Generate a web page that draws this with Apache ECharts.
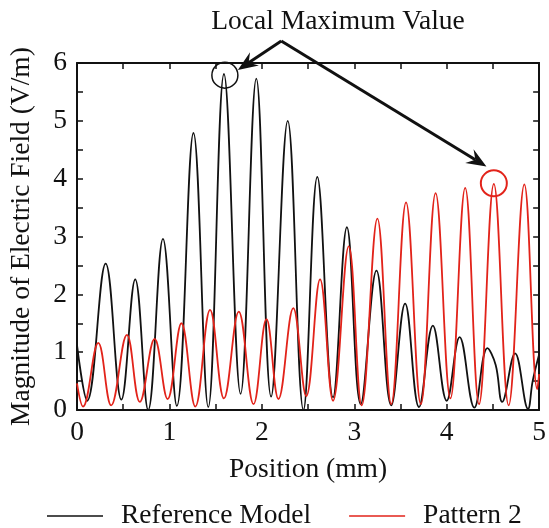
<!DOCTYPE html>
<html>
<head>
<meta charset="utf-8">
<script src="https://cdn.jsdelivr.net/npm/echarts@6/dist/echarts.min.js"></script>
<style>
  html, body { margin: 0; padding: 0; background: #fff; }
  #chart { width: 549px; height: 528px; }
</style>
</head>
<body>
<div id="chart"></div>
<script>
// Reference Model (black) - peaks and troughs
var refX = [0, 0.11, 0.31, 0.48, 0.63, 0.77, 0.93, 1.08, 1.26, 1.42, 1.59, 1.77, 1.94, 2.1, 2.28, 2.45,
  2.6, 2.77, 2.92, 3.07, 3.24, 3.4, 3.55, 3.7, 3.85, 4.0, 4.14, 4.3, 4.44, 4.53, 4.6, 4.74, 4.88, 4.93, 5.0]
var refY = [1.12, 0.16, 2.53, 0.18, 2.26, 0.0, 2.96, 0.07, 4.79, 0.05, 5.81, 0.28, 5.73, 0.23, 5.0, 0.0,
  4.03, 0.22, 3.16, 0.1, 2.41, 0.08, 1.84, 0.05, 1.46, 0.16, 1.26, 0.04, 1.07, 0.78, 0.14, 0.98, 0.02, 0.5, 0.96]

// Pattern 2 (red)
var patX = [0, 0.065, 0.23, 0.37, 0.54, 0.68, 0.84, 0.98, 1.13, 1.28, 1.44, 1.59, 1.75, 1.91, 2.05, 2.18,
  2.34, 2.48, 2.63, 2.77, 2.94, 3.08, 3.25, 3.4, 3.56, 3.72, 3.88, 4.04, 4.2, 4.35, 4.51, 4.67, 4.84, 4.98, 5.0]
var patY = [0.46, 0.06, 1.16, 0.08, 1.3, 0.14, 1.23, 0.19, 1.5, 0.06, 1.73, 0.2, 1.7, 0.1, 1.57, 0.19,
  1.76, 0.24, 2.26, 0.16, 2.83, 0.08, 3.31, 0.1, 3.59, 0.1, 3.75, 0.2, 3.84, 0.1, 3.91, 0.08, 3.9, 0.36, 0.62]

var xLabels = [0, 1, 2, 3, 4, 5]
var yLabels = [0, 1, 2, 3, 4, 5, 6]

// annotation anchor points (data coords)
var blackPeak = [1.6, 5.79]
var redPeak = [4.51, 3.92]
var arrowFrom = [2.21, 6.38]
var arrowTips = [[1.74, 5.88], [4.43, 4.21]]

function pairs(xs, ys) {
  var out = []
  for (var i = 0; i < xs.length; i++) out.push([xs[i], ys[i]])
  return out
}

var font = "'Liberation Serif', 'Times New Roman', serif"
var fs = 27.5

var chart = echarts.init(document.getElementById('chart'))

function axisX(pos, show) {
  return {
    type: 'value', position: pos, min: 0, max: 5, interval: 0.5,
    name: show ? 'Position (mm)' : '', nameLocation: 'middle', nameGap: 46,
    nameTextStyle: { fontFamily: font, fontSize: fs, color: '#111' },
    axisLine: { show: true, onZero: false, lineStyle: { color: '#111', width: 2 } },
    axisTick: { show: true, inside: true, length: 6, lineStyle: { color: '#111', width: 1.5 } },
    axisLabel: {
      show: show, margin: 9, fontFamily: font, fontSize: fs, color: '#111',
      formatter: function(v) { return xLabels.indexOf(v) >= 0 ? String(v) : '' }
    },
    splitLine: { show: false }
  }
}
function axisY(pos, show) {
  return {
    type: 'value', position: pos, min: 0, max: 6, interval: 0.5,
    name: show ? 'Magnitude of Electric Field (V/m)' : '', nameLocation: 'middle', nameGap: 41,
    nameTextStyle: { fontFamily: font, fontSize: fs, color: '#111' },
    axisLine: { show: true, onZero: false, lineStyle: { color: '#111', width: 2 } },
    axisTick: { show: true, inside: true, length: 6, lineStyle: { color: '#111', width: 1.5 } },
    axisLabel: {
      show: show, margin: 10, fontFamily: font, fontSize: fs, color: '#111',
      formatter: function(v) { return yLabels.indexOf(v) >= 0 ? String(v) : '' }
    },
    splitLine: { show: false }
  }
}

var option = {
  animation: false,
  backgroundColor: '#fff',
  grid: { left: 77, right: 9, top: 63, bottom: 118 },
  xAxis: [axisX('bottom', true), axisX('top', false)],
  yAxis: [axisY('left', true), axisY('right', false)],
  legend: {
    left: 42, top: 497, icon: 'rect', itemWidth: 56, itemHeight: 1.6, itemGap: 38,
    textStyle: { fontFamily: font, fontSize: fs, color: '#111', padding: [0, 0, 0, 13] },
    data: ['Reference Model', 'Pattern 2']
  },
  series: [
    {
      name: 'Reference Model', type: 'line', symbol: 'none', smooth: 0.4,
      lineStyle: { color: '#111', width: 1.8 }, itemStyle: { color: '#111' },
      data: pairs(refX, refY)
    },
    {
      name: 'Pattern 2', type: 'line', symbol: 'none', smooth: 0.4,
      lineStyle: { color: '#e2231a', width: 1.8 }, itemStyle: { color: '#e2231a' },
      data: pairs(patX, patY)
    }
  ]
}
chart.setOption(option)

// annotation: text, arrows and circles
function px(p) { return chart.convertToPixel({ gridIndex: 0 }, p) }
function arrow(from, to) {
  var a = px(from), t = px(to)
  var dx = t[0] - a[0], dy = t[1] - a[1]
  var len = Math.sqrt(dx * dx + dy * dy)
  var ux = dx / len, uy = dy / len, nx = -uy, ny = ux
  var L = 20, W = 8, notch = 7
  var base = [t[0] - ux * (L - notch), t[1] - uy * (L - notch)]
  return [
    { type: 'line', shape: { x1: a[0], y1: a[1], x2: base[0], y2: base[1] },
      style: { stroke: '#111', lineWidth: 3 } },
    { type: 'polygon', shape: { points: [
        t,
        [t[0] - ux * L + nx * W, t[1] - uy * L + ny * W],
        base,
        [t[0] - ux * L - nx * W, t[1] - uy * L - ny * W]
      ] }, style: { fill: '#111' } }
  ]
}
var bp = px(blackPeak), rp = px(redPeak)
var graphics = [
  { type: 'text', style: { text: 'Local Maximum Value', x: 338, y: 22, align: 'center', verticalAlign: 'middle',
    font: fs + 'px ' + font, fill: '#111' } },
  { type: 'circle', shape: { cx: bp[0], cy: bp[1], r: 13 }, style: { fill: 'none', stroke: '#111', lineWidth: 1.5 } },
  { type: 'circle', shape: { cx: rp[0], cy: rp[1], r: 13 }, style: { fill: 'none', stroke: '#e2231a', lineWidth: 2 } }
]
graphics = graphics.concat(arrow(arrowFrom, arrowTips[0]), arrow(arrowFrom, arrowTips[1]))
chart.setOption({ graphic: graphics })
</script>
</body>
</html>
